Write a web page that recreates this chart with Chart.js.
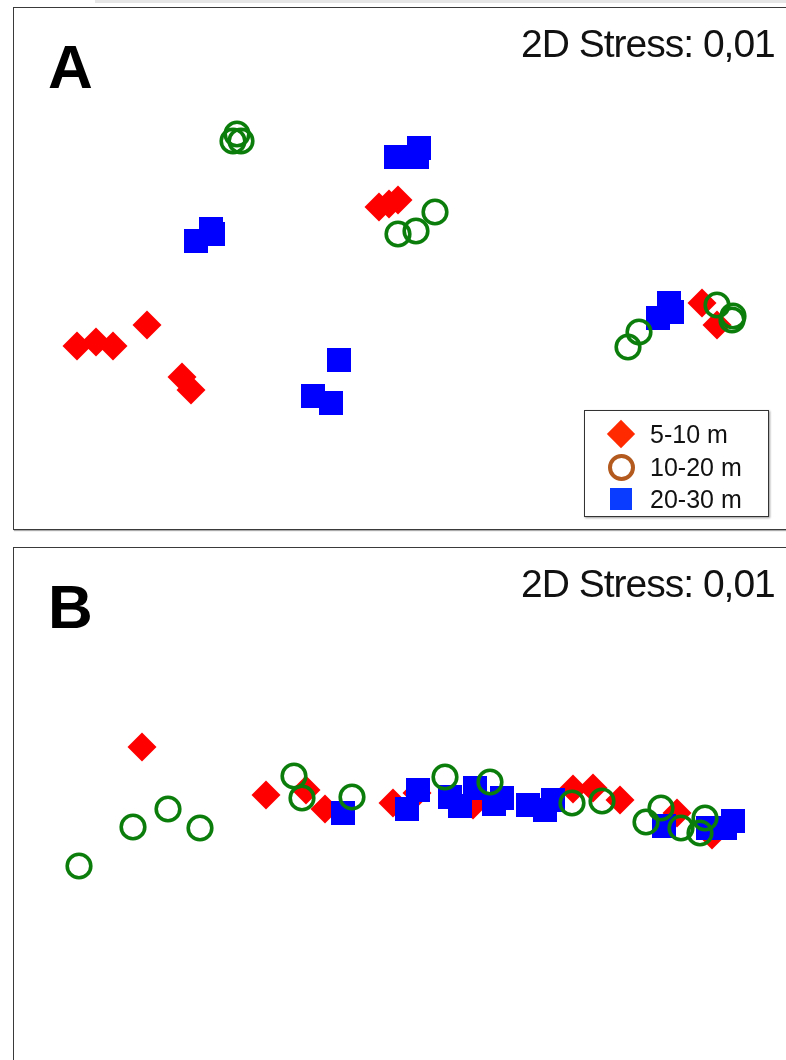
<!DOCTYPE html>
<html>
<head>
<meta charset="utf-8">
<script src="https://cdn.jsdelivr.net/npm/chart.js@4.4.1/dist/chart.umd.min.js"></script>
<style>
  body { margin: 0; width: 786px; height: 1060px; overflow: hidden; background: #fff; font-family: "Liberation Sans", Arial, sans-serif; position: relative; }
  .strip { position: absolute; left: 95px; top: 0; width: 700px; height: 3px; background: #e6e6e6; }
  .panel { position: absolute; left: 13px; width: 800px; border: 1px solid #3a3a3a; box-shadow: 1px 1px 1px #aaa; background: #fff; }
  .panel canvas { position: absolute; left: 0; top: 0; }
  .letter { position: absolute; font-weight: bold; font-size: 62px; line-height: 62px; color: #000; }
  .stress { position: absolute; font-size: 39px; line-height: 39px; letter-spacing: -1px; color: #111; white-space: nowrap; }
  .legend { position: absolute; left: 584px; top: 410px; width: 183px; height: 105px; border: 1px solid #333; box-shadow: 1px 1px 2px #999; background: #fff; }
  .legend .row { position: absolute; left: 0; width: 183px; height: 25px; }
  .legend .txt { position: absolute; left: 65px; top: 0; font-size: 25px; line-height: 25px; color: #111; white-space: nowrap; }
  .legend .mk { position: absolute; box-sizing: border-box; }
</style>
</head>
<body>
<div class="strip"></div>

<div class="panel" id="panelA" style="top:7px;height:521px;">
  <canvas id="chartA" width="772" height="521"></canvas>
</div>
<div class="panel" id="panelB" style="top:547px;height:520px;">
  <canvas id="chartB" width="772" height="512"></canvas>
</div>

<div class="letter" style="left:48px;top:36px;">A</div>
<div class="stress" style="left:521px;top:24px;">2D Stress: 0,01</div>
<div class="letter" style="left:48px;top:576px;">B</div>
<div class="stress" style="left:521px;top:564px;">2D Stress: 0,01</div>

<div class="legend" id="legend"></div>

<script>
// nMDS ordination coordinates (arbitrary units)
const depthLabels = ['5-10 m', '10-20 m', '20-30 m'];

// Panel A
const a_5_10 = [[64,183],[83,187],[100,183],[134,204],[169,152],[178,139],[366,322],[376,325],[385,329],[689,226],[704,204]];
const a_10_20 = [[224,395],[220,388],[228,388],[385,295],[403,298],[422,317],[615,182],[626,197],[704,224],[719,209],[720,213]];
const a_20_30 = [[183,288],[198,300],[200,295],[383,372],[404,372],[406,381],[326,169],[300,133],[318,126],[645,211],[656,226],[659,217]];

// Panel B
const b_5_10 = [[129,313],[253,265],[293,270],[312,251],[380,257],[404,267],[460,255],[560,271],[580,272],[607,260],[664,247],[699,225]];
const b_10_20 = [[66,194],[120,233],[155,251],[187,232],[281,284],[289,262],[339,263],[432,283],[477,278],[559,257],[589,259],[633,238],[648,252],[668,232],[687,227],[692,242]];
const b_20_30 = [[330,247],[394,251],[405,270],[437,263],[447,254],[462,272],[481,256],[489,262],[515,255],[532,250],[540,260],[651,234],[695,232],[712,232],[720,239]];

const toXY = arr => arr.map(p => ({ x: p[0], y: p[1] }));

function makeChart(id, red, green, blue, yMax) {
    return new Chart(document.getElementById(id), {
        type: 'scatter',
        data: {
            datasets: [
                {
                    label: depthLabels[0],
                    data: toXY(red),
                    pointStyle: 'rectRot',
                    pointRadius: 14.5,
                    pointHoverRadius: 14.5,
                    backgroundColor: '#ff0000',
                    borderWidth: 0,
                    order: 3
                },
                {
                    label: depthLabels[1],
                    data: toXY(green),
                    pointStyle: 'circle',
                    pointRadius: 11.8,
                    pointHoverRadius: 11.8,
                    backgroundColor: 'rgba(0,0,0,0)',
                    borderColor: '#0b7d0b',
                    borderWidth: 3.6,
                    order: 1
                },
                {
                    label: depthLabels[2],
                    data: toXY(blue),
                    pointStyle: 'rect',
                    pointRadius: 17,
                    pointHoverRadius: 17,
                    backgroundColor: '#0000ff',
                    borderWidth: 0,
                    order: 2
                }
            ]
        },
        options: {
            responsive: false,
            animation: false,
            devicePixelRatio: 1,
            layout: { padding: 0, autoPadding: false },
            scales: {
                x: { type: 'linear', min: 1, max: 773, display: false },
                y: { type: 'linear', min: 0, max: yMax, display: false }
            },
            plugins: {
                legend: { display: false },
                tooltip: { enabled: false }
            }
        }
    });
}

makeChart('chartA', a_5_10, a_10_20, a_20_30, 521);
makeChart('chartB', b_5_10, b_10_20, b_20_30, 512);

// legend box for panel A
const legendMarks = [
    { top: 11, style: 'left:26px;top:2px;width:20px;height:20px;background:#ff2a00;transform:rotate(45deg);' },
    { top: 44, style: 'left:23px;top:-1px;width:27px;height:27px;border:4px solid #b35a1f;border-radius:50%;background:#fff;' },
    { top: 76, style: 'left:25px;top:1px;width:22px;height:22px;background:#0a3cff;' }
];
const legendEl = document.getElementById('legend');
depthLabels.forEach((lab, i) => {
    const row = document.createElement('div');
    row.className = 'row';
    row.style.top = legendMarks[i].top + 'px';
    row.innerHTML = '<div class="mk" style="' + legendMarks[i].style + '"></div><div class="txt">' + lab + '</div>';
    legendEl.appendChild(row);
});
</script>
</body>
</html>
